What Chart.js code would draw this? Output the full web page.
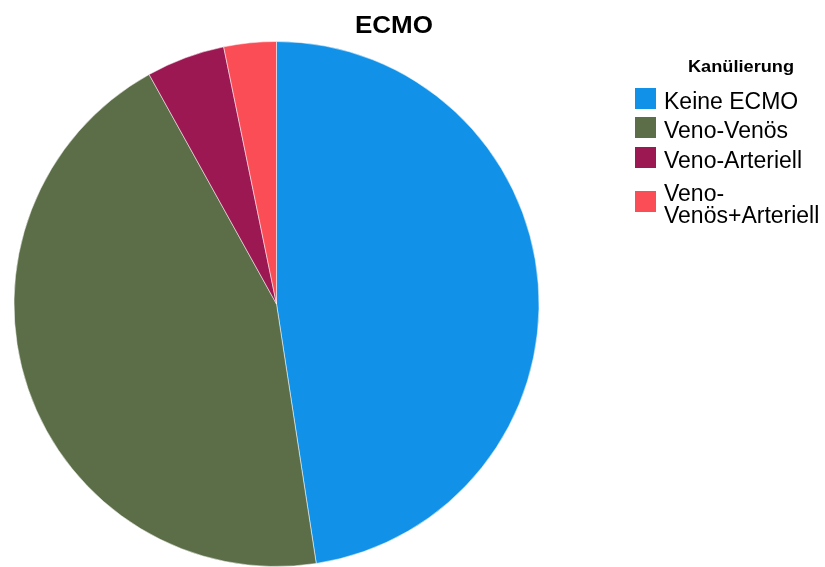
<!DOCTYPE html>
<html>
<head>
<meta charset="utf-8">
<script src="https://cdn.jsdelivr.net/npm/chart.js@4.4.1/dist/chart.umd.min.js"></script>
<style>
  html, body { margin: 0; padding: 0; background: #ffffff; }
  #wrap { width: 825px; height: 567px; position: relative; }
</style>
</head>
<body>
<div id="wrap"><canvas id="c" width="825" height="567"></canvas></div>
<script>
// ECMO cannulation counts
const chartTitle = 'ECMO';
const legendTitle = 'Kanülierung';
const categories = ['Keine ECMO', 'Veno-Venös', 'Veno-Arteriell', 'Veno-Venös+Arteriell'];
const legendLines = [['Keine ECMO'], ['Veno-Venös'], ['Veno-Arteriell'], ['Veno-', 'Venös+Arteriell']];
const counts = [59, 55, 6, 4];
const colors = ['#1192e8', '#5b6e48', '#9c1852', '#fa4d56'];

const FONT = '"Liberation Sans", Arial, sans-serif';

// Draw text centred at cx, stretched to the given width
function fitText(ctx, text, cx, y, width) {
  const w = ctx.measureText(text).width;
  ctx.save();
  ctx.translate(cx, y);
  ctx.scale(width / w, 1);
  ctx.textAlign = 'center';
  ctx.fillText(text, 0, 0);
  ctx.restore();
}

// Title and a legend that allows wrapped labels
const sideLegend = {
  id: 'sideLegend',
  afterDraw(chart) {
    const ctx = chart.ctx;
    ctx.save();
    ctx.fillStyle = '#000000';
    ctx.textBaseline = 'alphabetic';

    ctx.font = 'bold 24px ' + FONT;
    fitText(ctx, chartTitle, 394, 33, 78);

    ctx.font = 'bold 16px ' + FONT;
    fitText(ctx, legendTitle, 741, 72, 106);

    ctx.textAlign = 'left';
    ctx.font = '23px ' + FONT;
    const rows = [88, 117, 147, 191];
    chart.data.labels.forEach((lab, i) => {
      const y = rows[i];
      ctx.fillStyle = chart.data.datasets[0].backgroundColor[i];
      ctx.fillRect(635, y, 21, 21);
      ctx.fillStyle = '#000000';
      const lines = legendLines[i];
      if (lines.length === 1) {
        ctx.fillText(lines[0], 664, y + 21);
      } else {
        ctx.fillText(lines[0], 664, 201);
        ctx.fillText(lines[1], 664, 223);
      }
    });
    ctx.restore();
  }
};

new Chart(document.getElementById('c'), {
  type: 'pie',
  data: {
    labels: categories,
    datasets: [{
      data: counts,
      backgroundColor: colors,
      borderColor: 'rgba(255,255,255,0.5)',
      borderWidth: 1
    }]
  },
  options: {
    responsive: false,
    animation: false,
    layout: { padding: { left: 12, top: 41, right: 284, bottom: -3 } },
    plugins: {
      legend: { display: false },
      title: { display: false },
      tooltip: { enabled: false }
    }
  },
  plugins: [sideLegend]
});
</script>
</body>
</html>
